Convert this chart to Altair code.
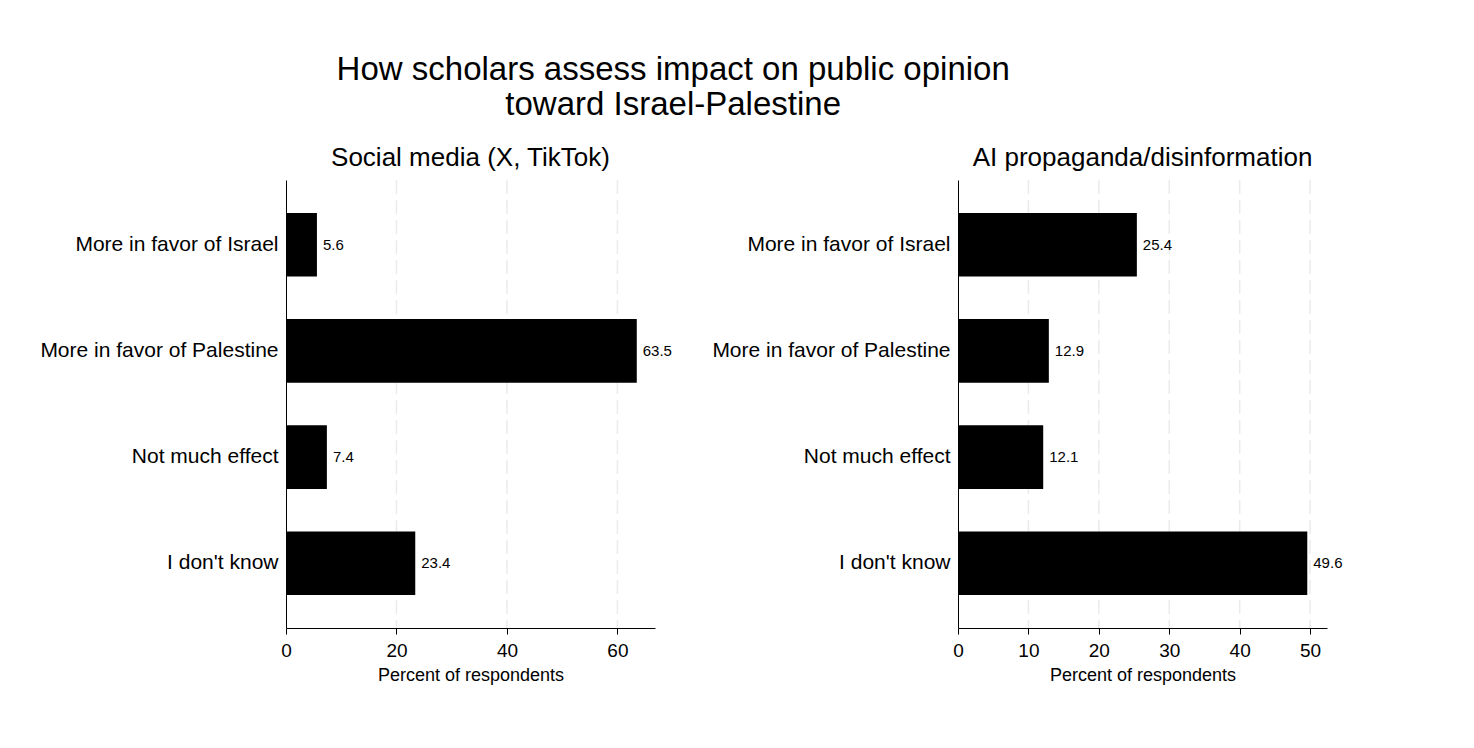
import altair as alt
import pandas as pd

categories = ["More in favor of Israel", "More in favor of Palestine", "Not much effect", "I don't know"]
social_media = [5.6, 63.5, 7.4, 23.4]
ai_propaganda = [25.4, 12.9, 12.1, 49.6]
panel_titles = ["Social media (X, TikTok)", "AI propaganda/disinformation"]
left_ticks = [0, 20, 40, 60]
right_ticks = [0, 10, 20, 30, 40, 50]

FONT = "Liberation Sans"


def panel(values, title, ticks, xmax):
    df = pd.DataFrame({"cat": categories, "pct": values})
    df["label"] = [f"{v:.1f}" for v in values]
    x = alt.X("pct:Q",
              scale=alt.Scale(domain=[0, xmax], nice=False, zero=True),
              axis=alt.Axis(values=ticks, title="Percent of respondents",
                            grid=False, labelFontSize=19, titleFontSize=18,
                            titleFontWeight="normal", labelFont=FONT, titleFont=FONT,
                            labelColor="black", titleColor="black",
                            domainColor="black", tickColor="black", tickSize=6,
                            labelPadding=7, titlePadding=6, labelFlush=False))
    y = alt.Y("cat:N", sort=categories,
              scale=alt.Scale(paddingInner=0.4, paddingOuter=0.31),
              axis=alt.Axis(title=None, ticks=False, labelFontSize=21, labelFont=FONT,
                            labelColor="black", domainColor="black", labelPadding=8,
                            labelLimit=400))
    grid_df = pd.DataFrame({"g": [t for t in ticks if t > 0]})
    grid = alt.Chart(grid_df).mark_rule(color="#ebebeb", strokeDash=[14, 6], strokeWidth=1.5).encode(
        x=alt.X("g:Q", scale=alt.Scale(domain=[0, xmax], nice=False))
    )
    bars = alt.Chart(df).mark_bar(color="black").encode(x=x, y=y)
    text = alt.Chart(df).mark_text(align="left", dx=6, fontSize=15, font=FONT, color="black").encode(
        x="pct:Q", y=alt.Y("cat:N", sort=categories), text="label:N"
    )
    return alt.layer(grid, bars, text).properties(
        width=369, height=448,
        title=alt.TitleParams(title, fontSize=26, font=FONT, fontWeight="normal",
                              color="black", offset=8)
    )


left = panel(social_media, panel_titles[0], left_ticks, 66.8)
right = panel(ai_propaganda, panel_titles[1], right_ticks, 52.4)

chart = alt.hconcat(left, right, spacing=39).properties(
    title=alt.TitleParams(
        ["How scholars assess impact on public opinion", "toward Israel-Palestine"],
        fontSize=33, font=FONT, fontWeight="normal", color="black",
        anchor="middle", dx=-18, offset=23, lineHeight=35
    ),
    padding={"left": 39, "top": 54, "right": 5, "bottom": 5}
).configure(background="white").configure_view(strokeWidth=0)

chart.save("out.html", embed_options={"renderer": "svg", "actions": False})
